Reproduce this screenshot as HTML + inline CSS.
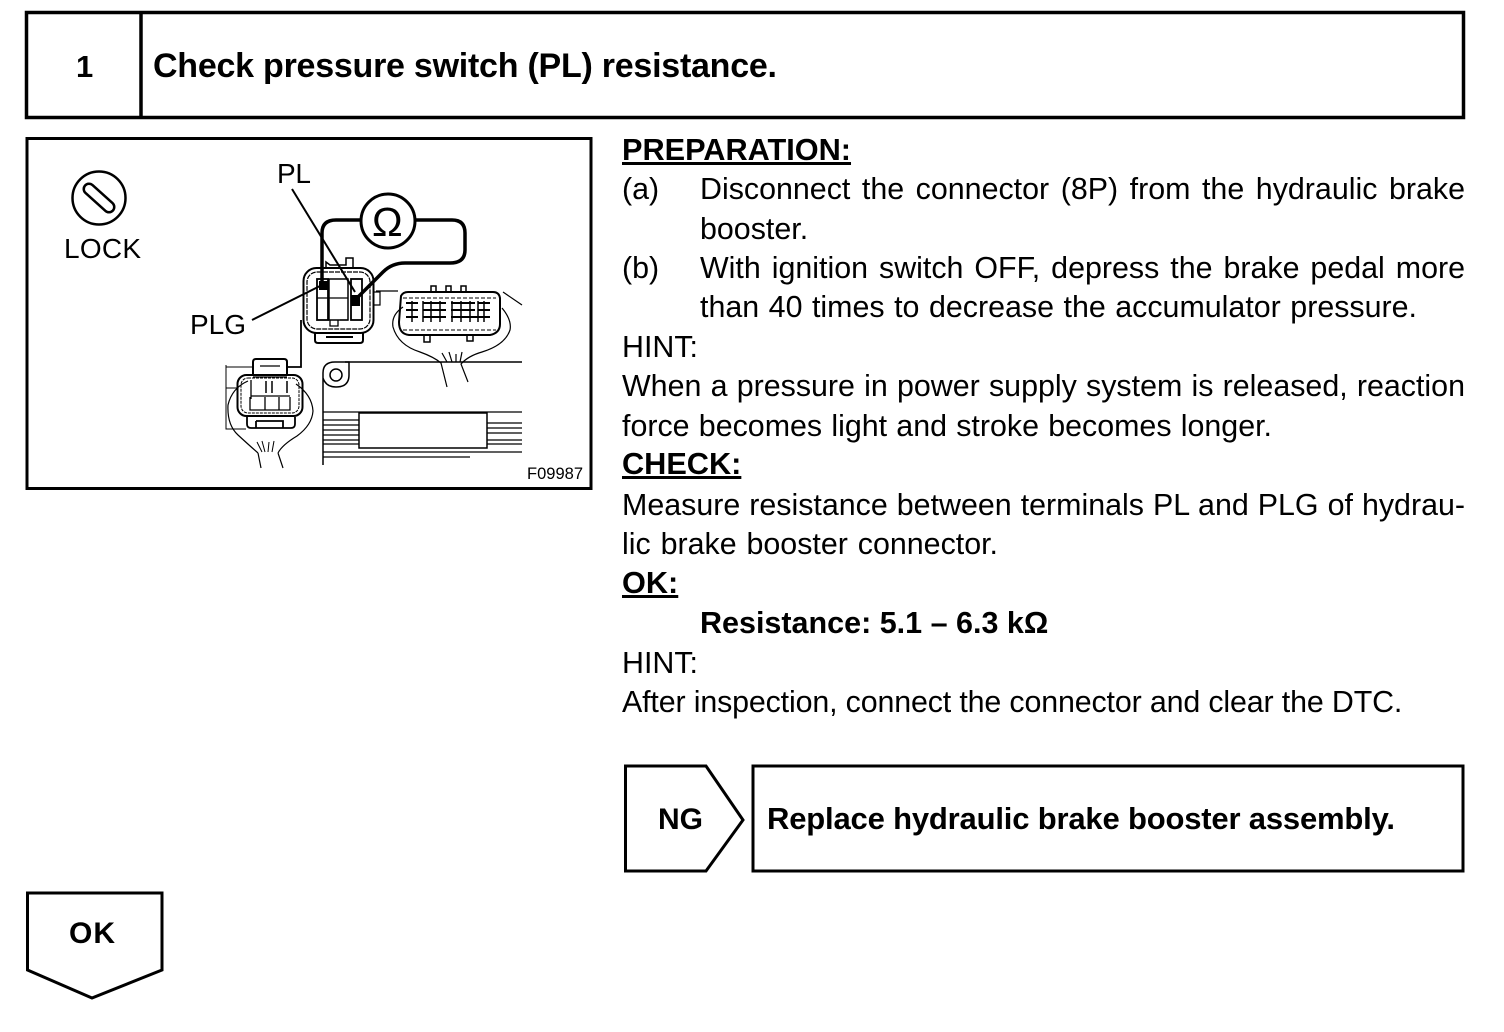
<!DOCTYPE html>
<html><head><meta charset="utf-8"><style>
html,body{margin:0;padding:0;background:#fff;width:1504px;height:1032px;overflow:hidden}
.l{position:absolute;font:30.4px/40px "Liberation Sans",sans-serif;color:#000;white-space:nowrap;text-align:justify;text-align-last:justify}
.b{font-weight:bold}.u{text-decoration:underline;text-decoration-thickness:3px;text-underline-offset:2px}
svg{position:absolute;left:0;top:0}
svg text{font-family:"Liberation Sans",sans-serif;fill:#000;stroke:none}
</style></head><body>
<svg width="1504" height="1032" viewBox="0 0 1504 1032" fill="none" stroke="#000">
<!-- header -->
<rect x="26.500" y="12.500" width="1437" height="105" stroke-width="3.500"/>
<line x1="141" y1="12" x2="141" y2="118" stroke-width="3.500"/>
<text x="76" y="77" font-size="31" font-weight="bold" textLength="16">1</text>
<text x="153" y="77" font-size="34" font-weight="bold" textLength="624" lengthAdjust="spacing">Check pressure switch (PL) resistance.</text>
<!-- figure box -->
<rect x="27" y="138.500" width="564" height="350" stroke-width="3"/>
<!-- lock -->
<circle cx="99" cy="198" r="26.500" stroke-width="2.500"/>
<line x1="89" y1="189" x2="109" y2="207" stroke-width="13" stroke-linecap="round"/>
<line x1="89" y1="189" x2="109" y2="207" stroke="#fff" stroke-width="8" stroke-linecap="round"/>
<text x="64" y="258" font-size="28" textLength="77">LOCK</text>
<text x="277" y="183" font-size="28" textLength="34">PL</text>
<text x="190" y="334" font-size="28" textLength="56">PLG</text>
<text x="527" y="479" font-size="16.500" textLength="56">F09987</text>
<!-- leaders -->
<path d="M292 189 L355 292" stroke-width="2"/>
<path d="M252 320 L322 285" stroke-width="2"/>
<!-- meter -->
<circle cx="388" cy="221" r="27" stroke-width="3"/>
<text x="372" y="236" font-size="41" textLength="33">Ω</text>
<path d="M361 220 H336 Q322 220 322 233 V287" stroke-width="3.500"/>
<path d="M416 220 H452 Q465 220 465 233 V250 Q465 263 450 263 H405 Q392 263 383 272 L355 300" stroke-width="3.500"/>
<rect x="319" y="281" width="9" height="9" fill="#000" stroke="none"/>
<rect x="351" y="295" width="9" height="11" fill="#000" stroke="none"/>
<!-- connector PL/PLG -->
<path d="M326 268 V262 L330 265 H346 V258 H353 V268" stroke-width="1.500"/>
<rect x="303.500" y="268" width="70" height="65" rx="13" stroke-width="2"/>
<rect x="307" y="272" width="63" height="57" rx="10" stroke-width="1.200" stroke-dasharray="5 1"/>
<rect x="317" y="279" width="11" height="41" stroke-width="1.800"/>
<rect x="329" y="279" width="19" height="41" stroke-width="1.500"/>
<rect x="351" y="279" width="11" height="41" stroke-width="1.800"/>
<path d="M317 298 H328 M329 298 H348" stroke-width="1.300"/>
<path d="M315 333 V340 Q315 343 318 343 H360 Q363 343 363 340 V333 M326 337 H353" stroke-width="2"/>
<path d="M330 320 V326 H338 V320 M340 320 H348" stroke-width="1.300"/>
<path d="M374 292 H380 V305 H374 M376 291 H398" stroke-width="1.200"/>
<!-- wire to lower connector -->
<path d="M301 320 V367 H287" stroke-width="1.800"/>
<!-- lower-left connector -->
<path d="M226 367 H252 M226 365 V429 H246" stroke-width="1"/>
<path d="M226 388 H238" stroke-width="1"/>
<path d="M253 375 V362 Q253 359 256 359 H284 Q287 359 287 362 V375" stroke-width="2"/>
<rect x="237.500" y="375" width="65" height="41" rx="9" stroke-width="2"/>
<rect x="241" y="378" width="58" height="35" rx="7" stroke-width="1" stroke-dasharray="3 1"/>
<path d="M251 380 V399 M251 396 H290 M250 397 V410 H290 V397 M265 397 V410 M279 397 V410" stroke-width="1.300"/>
<path d="M266 381 V393 M272 381 V393 M287 381 V393" stroke-width="1.500"/>
<path d="M247 417 V424 Q247 428 251 428 H291 Q295 428 295 424 V417 M256 421 H283 V428 M256 421 V428" stroke-width="1.800"/>
<path d="M253 377 H287 M260 366 H280" stroke-width="1.200"/>
<path d="M248 381 Q232 388 228 405 Q227 425 238 435 Q250 446 258 453 M258 453 L261 468" stroke-width="1.200"/>
<path d="M296 384 Q312 395 313 411 Q312 425 297 436 Q282 445 278 453 M278 453 L283 468" stroke-width="1.200"/>
<path d="M257 442 L262 452 M262 441 L265 452 M269 442 L268 452 M274 441 L272 452" stroke-width="1"/>
<!-- right connector -->
<path d="M401 296 Q403 292 408 292 H493 Q499 292 500 298 V324 Q500 333 490 335 H409 Q399 334 399 322 Z" stroke-width="2"/>
<path d="M403 298 H496 M403 330 H496" stroke-width="1" stroke-dasharray="4 2"/>
<path d="M431 291 V286 H436 V291 M446 291 V286 H451 V291 M461 291 V286 H466 V291 M424 335 V342 H430 V335 M467 335 V341 H473 V335" stroke-width="1.500"/>
<path d="M406 303 H418 M406 310 H418 M406 317 H418 M423 303 H446 M423 310 H446 M423 317 H446 M451 303 H475 M451 310 H475 M451 317 H490 M478 303 H490 M478 310 H490" stroke-width="2"/>
<path d="M412 301 V322 M423 301 V322 M431 301 V322 M440 301 V322 M452 301 V322 M461 301 V322 M470 301 V322 M478 301 V322 M484 301 V322" stroke-width="1.500"/>
<path d="M403 307 Q391 315 393 327 Q398 345 420 352 Q434 357 441 363 L447 387" stroke-width="1.200"/>
<path d="M502 308 Q512 320 510 330 Q505 345 482 352 Q468 356 461 364 L468 382" stroke-width="1.200"/>
<path d="M442 353 L447 362 M449 352 L452 362 M456 354 L456 362 M462 352 L460 362 M503 292 L522 305" stroke-width="1.200"/>
<!-- base plate -->
<path d="M345 362 H522" stroke-width="1.500"/>
<path d="M323 465 V373 Q323 362 335 362 H349 V375 Q349 387 336 387 Q326 387 323 378" stroke-width="1.500"/>
<circle cx="336" cy="375" r="6" stroke-width="1.500"/>
<path d="M323 412 H522 M323 452 H522 M323 457 H470" stroke-width="1.300"/>
<rect x="359" y="413" width="128" height="35" stroke-width="1.500"/>
<path d="M323 420 H359 M323 425 H359 M323 430 H359 M323 435 H359 M323 440 H359 M323 444 H359 M487 423 H522 M487 428 H522 M487 433 H522 M487 440 H522 M487 444 H522" stroke-width="1.200"/>
<!-- NG -->
<path d="M625.500 766 H706 L743 820 L706 871 H625.500 Z" stroke-width="3"/>
<text x="658" y="829" font-size="30" font-weight="bold" textLength="45">NG</text>
<rect x="753" y="766" width="710" height="105" stroke-width="3"/>
<text x="767" y="829" font-size="31" font-weight="bold" textLength="628">Replace hydraulic brake booster assembly.</text>
<!-- OK -->
<path d="M27.500 893 H162 V970 L92 998 L27.500 970 Z" stroke-width="3"/>
<text x="69" y="943" font-size="30" font-weight="bold" textLength="46">OK</text>
</svg>
<div class="l b u" style="left:622px;top:130px;width:228px;font-size:30.700px">PREPARATION:</div>
<div class="l" style="left:622px;top:169px;width:37px">(a)</div>
<div class="l" style="left:700px;top:169px;width:765px">Disconnect the connector (8P) from the hydraulic brake</div>
<div class="l" style="left:700px;top:209px;width:108px">booster.</div>
<div class="l" style="left:622px;top:248px;width:37px">(b)</div>
<div class="l" style="left:700px;top:248px;width:765px">With ignition switch OFF, depress the brake pedal more</div>
<div class="l" style="left:700px;top:287px;width:717px">than 40 times to decrease the accumulator pressure.</div>
<div class="l" style="left:622px;top:327px;width:75px">HINT:</div>
<div class="l" style="left:622px;top:366px;width:843px">When a pressure in power supply system is released, reaction</div>
<div class="l" style="left:622px;top:406px;width:650px">force becomes light and stroke becomes longer.</div>
<div class="l b u" style="left:622px;top:444px;width:119px;font-size:30.700px">CHECK:</div>
<div class="l" style="left:622px;top:485px;width:843px">Measure resistance between terminals PL and PLG of hydrau-</div>
<div class="l" style="left:622px;top:524px;width:376px">lic brake booster connector.</div>
<div class="l b u" style="left:622px;top:563px;width:55px;font-size:30.700px">OK:</div>
<div class="l b" style="left:700px;top:603px;width:348px;font-size:30.500px">Resistance: 5.1 – 6.3 kΩ</div>
<div class="l" style="left:622px;top:643px;width:75px">HINT:</div>
<div class="l" style="left:622px;top:682px;width:780px;letter-spacing:-0.15px">After inspection, connect the connector and clear the DTC.</div>
</body></html>
